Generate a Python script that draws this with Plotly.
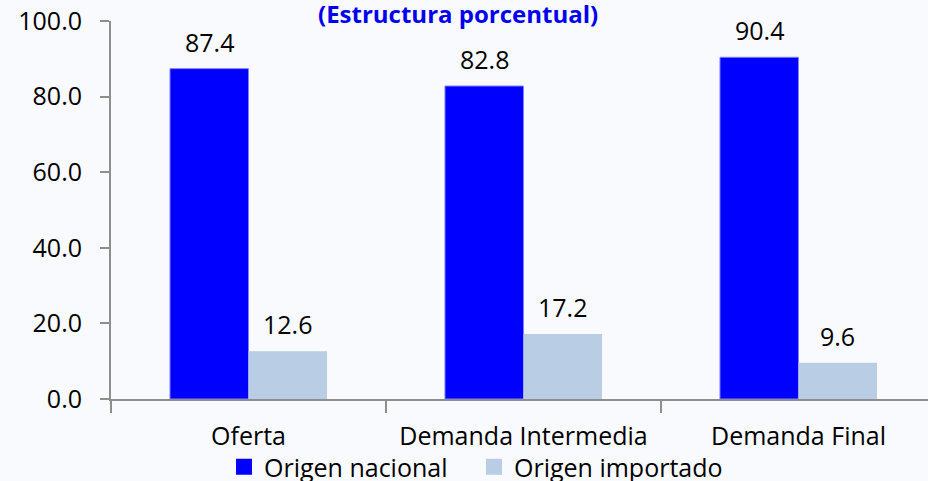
import plotly.graph_objects as go

categories = ["Oferta", "Demanda Intermedia", "Demanda Final"]
nacional = [87.4, 82.8, 90.4]
importado = [12.6, 17.2, 9.6]
series_names = ["Origen nacional", "Origen importado"]
title_text = "(Estructura porcentual)"
y_ticks = [0, 20, 40, 60, 80, 100]

c_nac = "#0000FF"
c_imp = "#B9CDE5"
bg = "#F8FAFE"
font = "Open Sans"

fig = go.Figure()
fig.add_trace(go.Bar(x=categories, y=nacional, name=series_names[0],
                     marker=dict(color=c_nac, line=dict(color="#7F7FFF", width=1)),
                     showlegend=False))
fig.add_trace(go.Bar(x=categories, y=importado, name=series_names[1],
                     marker=dict(color=c_imp, line=dict(width=0)),
                     showlegend=False))
# legend proxies
for nm, col in zip(series_names, [c_nac, c_imp]):
    fig.add_trace(go.Scatter(x=[None], y=[None], mode="markers", name=nm,
                             marker=dict(symbol="square", size=16, color=col)))

anns = []
for vals, shift in [(nacional, -39), (importado, 39)]:
    for c, v in zip(categories, vals):
        anns.append(dict(x=c, y=v, xref="x", yref="y", text=f"{v:.1f}",
                         showarrow=False, xshift=shift, yshift=27, yanchor="middle",
                         font=dict(family=font, size=25, color="#000000")))
anns.append(dict(x=(458 - 111) / 817, y=1 + (21 - 13) / 378, xref="paper", yref="paper",
                 text=f"<b>{title_text}</b>", showarrow=False, yanchor="middle",
                 xanchor="center",
                 font=dict(family=font, size=24, color="#0000EE")))

fig.update_layout(
    width=928, height=481,
    margin=dict(l=111, r=0, t=21, b=82, autoexpand=False),
    paper_bgcolor=bg, plot_bgcolor=bg,
    barmode="group", bargap=0.429, bargroupgap=0,
    font=dict(family=font, size=25, color="#000000"),
    annotations=anns,
    legend=dict(orientation="h", x=(224 - 111) / 817, xanchor="left",
                y=(399 - 467) / 378, yanchor="middle",
                entrywidth=205, entrywidthmode="pixels",
                font=dict(family=font, size=25, color="#000000"),
                bgcolor="rgba(0,0,0,0)", itemclick=False),
    xaxis=dict(type="category", range=[-0.5, 2.471], showline=True, linecolor="#8E8E8E",
               linewidth=2, ticks="outside", tickson="boundaries", ticklen=12,
               tickcolor="#8E8E8E", tickwidth=2, showgrid=False, zeroline=False,
               ticklabelstandoff=14, automargin=False),
    yaxis=dict(range=[0, 100], tickvals=y_ticks, tickformat=".1f", showline=True,
               linecolor="#8E8E8E", linewidth=2, ticks="outside", ticklen=9,
               tickcolor="#8E8E8E", tickwidth=2, showgrid=False, zeroline=False,
               ticklabelstandoff=13, automargin=False),
)

fig.write_html("out.html", config={"displayModeBar": False},
               post_script="document.body.style.margin='0';"
                           "document.body.style.background='" + bg + "';"
                           "document.body.style.overflow='hidden';")
